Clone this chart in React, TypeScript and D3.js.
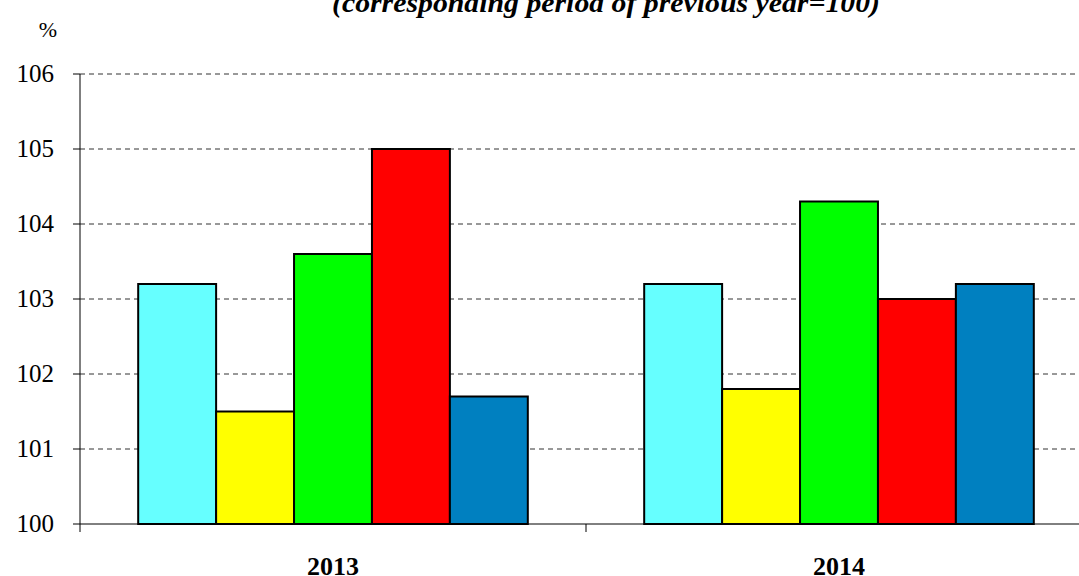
import React from 'react';
import * as d3 from 'd3';

const years = ['2013', '2014'];
const series = ['s1', 's2', 's3', 's4', 's5'];
const colors = ['#66FFFF', '#FFFF00', '#00FF00', '#FF0000', '#0080C0'];
const values2013 = [103.2, 101.5, 103.6, 105.0, 101.7];
const values2014 = [103.2, 101.8, 104.3, 103.0, 103.2];
const yTicks = [100, 101, 102, 103, 104, 105, 106];
const title = '(corresponding period of previous year=100)';

const W = 1079;
const H = 576;
const left = 80;
const right = 1092;
const top = 74;
const bottom = 524;

const font = "'Liberation Serif', 'Times New Roman', Times, 'DejaVu Serif', serif";

const App = () => {
  const data = [values2013, values2014];

  // scales
  const x0 = d3.scaleBand<string>().domain(years).range([left, right]).padding(0);
  const bw = x0.bandwidth();
  const x1 = d3.scaleBand<string>().domain(series).range([bw * 0.115, bw * 0.885]).padding(0);
  const y = d3.scaleLinear().domain([100, 106]).range([bottom, top]);

  const txt = { fontFamily: font };

  return (
    <svg width={W} height={H} style={{ position: 'absolute', left: 0, top: 0, display: 'block' }}>
      <rect width={W} height={H} fill="#fff" />
      <text x={332} y={12} fontSize={27} fontWeight="bold" fontStyle="italic" style={txt}
        textLength={548} lengthAdjust="spacingAndGlyphs">{title}</text>
      <text x={48} y={37} textAnchor="middle" fontSize={22} style={txt}>%</text>

      {/* grid lines */}
      {yTicks.filter(t => t > 100).map(t => (
        <line key={t} x1={left} x2={W} y1={y(t)} y2={y(t)} stroke="#333" strokeWidth={1} strokeDasharray="5,4" />
      ))}

      {/* bars */}
      {years.map((yr, i) => (
        <g key={yr} transform={`translate(${x0(yr)},0)`}>
          {series.map((s, j) => (
            <rect key={s} x={x1(s)} y={y(data[i][j])} width={x1.bandwidth()} height={y(100) - y(data[i][j])}
              fill={colors[j]} stroke="#000" strokeWidth={2} />
          ))}
        </g>
      ))}

      {/* y axis */}
      <line x1={left} x2={left} y1={top} y2={bottom} stroke="#000" strokeWidth={1} />
      {yTicks.map(t => (
        <g key={t}>
          <line x1={left - 7} x2={left} y1={y(t)} y2={y(t)} stroke="#000" />
          <text x={54} y={y(t) + 8} textAnchor="end" fontSize={25} style={txt}>{t}</text>
        </g>
      ))}

      {/* x axis */}
      <line x1={left} x2={W} y1={bottom} y2={bottom} stroke="#000" strokeWidth={1} />
      {[...years.map(yr => x0(yr) as number), right].map((xv, i) => (
        <line key={i} x1={xv} x2={xv} y1={bottom} y2={bottom + 8} stroke="#000" />
      ))}
      {years.map(yr => (
        <text key={yr} x={(x0(yr) as number) + bw / 2} y={575} textAnchor="middle" fontSize={26} fontWeight="bold" style={txt}>{yr}</text>
      ))}
    </svg>
  );
};

export default App;
